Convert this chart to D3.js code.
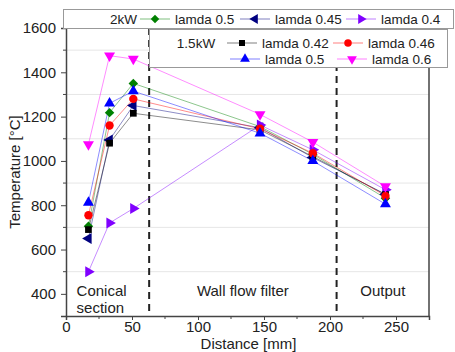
<!DOCTYPE html>
<html>
<head>
<meta charset="utf-8">
<script src="https://cdn.jsdelivr.net/npm/d3@7"></script>
<style>
  body { margin: 0; background: #fff; }
  text { font-family: "Liberation Sans", Arial, sans-serif; fill: #222; }
</style>
</head>
<body>
<div id="chart"></div>
<script>
// distances along the system [mm]
const distance = [17, 33, 51, 147, 187, 242];

// 2kW runs
const kw2_lamda05  = [705, 1218, 1350, 1155, 1030, 832];
const kw2_lamda045 = [650, 1095, 1250, 1150, 1015, 850];
const kw2_lamda04  = [500, 720, 785, 1162, 1050, 870];

// 1.5kW runs
const kw15_lamda042 = [690, 1080, 1215, 1140, 1020, 848];
const kw15_lamda046 = [755, 1160, 1280, 1145, 1035, 842];
const kw15_lamda05  = [812, 1260, 1315, 1125, 1000, 805];
const kw15_lamda06  = [1075, 1475, 1460, 1210, 1085, 885];

const xTicks = [0, 50, 100, 150, 200, 250];
const yTicks = [400, 600, 800, 1000, 1200, 1400, 1600];
const sectionBounds = [63, 205];
const sections = ["Conical section", "Wall flow filter", "Output"];

const width = 455, height = 352;
const margin = {top: 28, right: 26, bottom: 36, left: 66};

const svg = d3.select("#chart").append("svg")
  .attr("width", width).attr("height", height);

const x = d3.scaleLinear().domain([0, 275]).range([margin.left, width - margin.right]);
const y = d3.scaleLinear().domain([300, 1600]).range([height - margin.bottom, margin.top]);

// grid lines on the minor values
const minorY = d3.range(500, 1600, 200);
svg.append("g").selectAll("line").data(minorY).join("line")
  .attr("x1", x(0)).attr("x2", x(275))
  .attr("y1", d => y(d)).attr("y2", d => y(d))
  .attr("stroke", "#e6e6e6").attr("stroke-width", 1);

// frame (right + top)
svg.append("path")
  .attr("d", `M${x(0)},${y(1600)}H${x(275)}V${y(300)}`)
  .attr("fill", "none").attr("stroke", "#444").attr("stroke-width", 1.5);

// axes
const xAxis = svg.append("g")
  .attr("transform", `translate(0,${y(300)})`)
  .call(d3.axisBottom(x).tickValues(xTicks).tickFormat(d3.format("d")).tickSize(4).tickPadding(1));
xAxis.append("g").selectAll("line").data(d3.range(25, 275, 50)).join("line")
  .attr("x1", d => x(d)).attr("x2", d => x(d)).attr("y1", 0).attr("y2", 3)
  .attr("stroke", "#444");

const yAxis = svg.append("g")
  .attr("transform", `translate(${x(0)},0)`)
  .call(d3.axisLeft(y).tickValues(yTicks).tickFormat(d3.format("d")).tickSize(5).tickPadding(5));
yAxis.append("g").selectAll("line").data(minorY).join("line")
  .attr("x1", 0).attr("x2", -3).attr("y1", d => y(d)).attr("y2", d => y(d))
  .attr("stroke", "#444");

[xAxis, yAxis].forEach(a => {
  a.select(".domain").attr("stroke", "#444").attr("stroke-width", 1.5);
  a.selectAll(".tick line").attr("stroke", "#444");
  a.selectAll(".tick text").style("font-size", "15px")
    .style("font-family", "'Liberation Sans', Arial, sans-serif").attr("fill", "#222");
});

svg.append("text")
  .attr("x", (x(0) + x(275)) / 2 + 1).attr("y", 349)
  .attr("text-anchor", "middle").style("font-size", "15px")
  .text("Distance [mm]");

svg.append("text")
  .attr("transform", `translate(20,${y(950)}) rotate(-90)`)
  .attr("text-anchor", "middle").style("font-size", "15px")
  .text("Temperature [°C]");

// section separators
svg.append("g").selectAll("line").data(sectionBounds).join("line")
  .attr("x1", d => x(d)).attr("x2", d => x(d))
  .attr("y1", y(1600)).attr("y2", y(300))
  .attr("stroke", "#222").attr("stroke-width", 2)
  .attr("stroke-dasharray", "7,5");

// section labels
svg.append("text").attr("x", x(8)).attr("y", y(392)).style("font-size", "15px").text("Conical");
svg.append("text").attr("x", x(8)).attr("y", y(312)).style("font-size", "15px").text("section");
svg.append("text").attr("x", x(134)).attr("y", y(392)).attr("text-anchor", "middle")
  .style("font-size", "15px").text(sections[1]);
svg.append("text").attr("x", x(240)).attr("y", y(392)).attr("text-anchor", "middle")
  .style("font-size", "15px").text(sections[2]);

// series
const series = [
  {name: "lamda 0.5",  values: kw2_lamda05,   color: "#008000", sym: d3.symbolSquare,   rot: 45,  size: 45},
  {name: "lamda 0.45", values: kw2_lamda045,  color: "#000080", sym: d3.symbolTriangle, rot: -90, size: 52},
  {name: "lamda 0.4",  values: kw2_lamda04,   color: "#8000ff", sym: d3.symbolTriangle, rot: 90,  size: 52},
  {name: "lamda 0.42", values: kw15_lamda042, color: "#000000", sym: d3.symbolSquare,   rot: 0,   size: 45},
  {name: "lamda 0.46", values: kw15_lamda046, color: "#ff0000", sym: d3.symbolCircle,   rot: 0,   size: 55},
  {name: "lamda 0.5",  values: kw15_lamda05,  color: "#0000ff", sym: d3.symbolTriangle, rot: 0,   size: 52},
  {name: "lamda 0.6",  values: kw15_lamda06,  color: "#ff00ff", sym: d3.symbolTriangle, rot: 180, size: 52}
];

const line = d3.line().x((d, i) => x(distance[i])).y(d => y(d));

series.forEach(s => {
  svg.append("path").datum(s.values)
    .attr("d", line).attr("fill", "none")
    .attr("stroke", s.color).attr("stroke-opacity", 0.45).attr("stroke-width", 1);
});
series.forEach(s => {
  svg.append("g").selectAll("path").data(s.values).join("path")
    .attr("transform", (d, i) => `translate(${x(distance[i])},${y(d)}) rotate(${s.rot})`)
    .attr("d", d3.symbol(s.sym, s.size))
    .attr("fill", s.color);
});

// legends
function legendItem(g, s, lx, ly) {
  g.append("line").attr("x1", lx).attr("x2", lx + 30).attr("y1", ly).attr("y2", ly)
    .attr("stroke", s.color).attr("stroke-opacity", 0.5);
  g.append("path").attr("transform", `translate(${lx + 15},${ly}) rotate(${s.rot})`)
    .attr("d", d3.symbol(s.sym, s.size * 0.8)).attr("fill", s.color);
  g.append("text").attr("x", lx + 35).attr("y", ly).attr("dy", "0.35em")
    .style("font-size", "13.5px").text(s.name);
}

const leg1 = svg.append("g");
leg1.append("rect").attr("x", 63.5).attr("y", 9.5).attr("width", 390).attr("height", 19)
  .attr("fill", "#fff").attr("stroke", "#999");
leg1.append("text").attr("x", 137).attr("y", 19).attr("dy", "0.35em").attr("text-anchor", "end")
  .style("font-size", "13.5px").text("2kW");
legendItem(leg1, series[0], 140, 19);
legendItem(leg1, series[1], 240, 19);
legendItem(leg1, series[2], 346, 19);

const leg2 = svg.append("g");
leg2.append("rect").attr("x", 149.5).attr("y", 29.5).attr("width", 298).attr("height", 38)
  .attr("fill", "#fff").attr("stroke", "#999");
leg2.append("text").attr("x", 196).attr("y", 43).attr("dy", "0.35em").attr("text-anchor", "middle")
  .style("font-size", "13.5px").text("1.5kW");
legendItem(leg2, series[3], 227, 43);
legendItem(leg2, series[4], 333, 43);
legendItem(leg2, series[5], 230, 59);
legendItem(leg2, series[6], 337, 59);
</script>
</body>
</html>
